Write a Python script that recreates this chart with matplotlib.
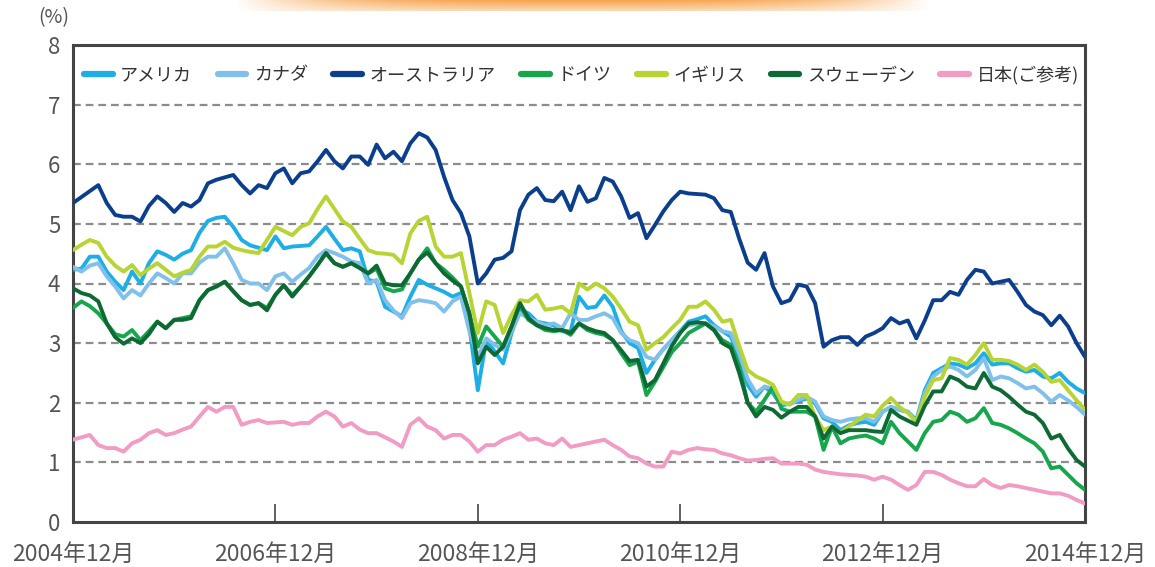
import numpy as np
import matplotlib
matplotlib.use("Agg")
import matplotlib.pyplot as plt
from matplotlib.lines import Line2D

plt.rcParams['font.family'] = ['Noto Sans CJK JP', 'DejaVu Sans']

# ---- data (monthly, Dec 2004 .. Dec 2014) ----
xtick_labels = ["2004年12月", "2006年12月", "2008年12月", "2010年12月", "2012年12月", "2014年12月"]
series_names = ["アメリカ", "カナダ", "オーストラリア", "ドイツ", "イギリス", "スウェーデン", "日本(ご参考)"]

usa = [4.23, 4.25, 4.45, 4.45, 4.2, 4.03, 3.89, 4.2, 4.0, 4.34, 4.54, 4.48, 4.4, 4.5, 4.56, 4.85, 5.05, 5.1, 5.12, 4.95,
       4.73, 4.64, 4.6, 4.56, 4.79, 4.59, 4.62, 4.63, 4.64, 4.79, 4.95, 4.75, 4.56, 4.59, 4.54, 4.06, 4.03, 3.61, 3.53, 3.45,
       3.78, 4.06, 3.98, 3.92, 3.86, 3.78, 3.84, 3.28, 2.21, 3.05, 2.86, 2.66, 3.17, 3.56, 3.5, 3.36, 3.33, 3.3, 3.2, 3.2,
       3.78, 3.59, 3.61, 3.8, 3.61, 3.2, 3.0, 2.92, 2.5, 2.72, 2.9, 3.05, 3.2, 3.36, 3.4, 3.45, 3.3, 3.2, 3.11, 2.77,
       2.3, 2.1, 2.27, 2.16, 1.95, 1.99, 2.03, 2.07, 1.99, 1.74, 1.68, 1.54, 1.62, 1.66, 1.68, 1.63, 1.85, 1.93, 1.88, 1.85,
       1.71, 2.21, 2.5, 2.58, 2.66, 2.64, 2.58, 2.66, 2.83, 2.64, 2.66, 2.66, 2.58, 2.52, 2.55, 2.44, 2.41, 2.5, 2.35, 2.24,
       2.16]
canada = [4.28, 4.2, 4.3, 4.34, 4.12, 3.95, 3.75, 3.89, 3.8, 4.0, 4.17, 4.09, 4.0, 4.17, 4.17, 4.35, 4.45, 4.45, 4.59, 4.34,
          4.06, 4.0, 4.0, 3.89, 4.12, 4.17, 4.03, 4.15, 4.26, 4.45, 4.56, 4.51, 4.45, 4.37, 4.34, 4.0, 4.06, 3.72, 3.55, 3.42,
          3.67, 3.72, 3.7, 3.67, 3.53, 3.7, 3.78, 3.2, 2.77, 3.08, 2.97, 2.89, 3.2, 3.5, 3.42, 3.36, 3.3, 3.33, 3.25, 3.5,
          3.39, 3.39, 3.45, 3.5, 3.42, 3.17, 3.05, 3.0, 2.77, 2.72, 2.9, 3.05, 3.2, 3.3, 3.32, 3.33, 3.28, 3.2, 3.17, 2.83,
          2.4, 2.16, 2.27, 2.24, 2.0, 1.97, 2.05, 2.1, 2.02, 1.77, 1.71, 1.68, 1.72, 1.74, 1.74, 1.68, 1.85, 1.93, 1.88, 1.85,
          1.68, 2.16, 2.44, 2.55, 2.61, 2.55, 2.44, 2.55, 2.75, 2.38, 2.44, 2.41, 2.33, 2.24, 2.27, 2.16, 2.02, 2.13, 2.04, 1.93,
          1.8]
australia = [5.35, 5.45, 5.55, 5.65, 5.35, 5.15, 5.12, 5.12, 5.04, 5.3, 5.46, 5.35, 5.2, 5.35, 5.29, 5.4, 5.68, 5.74, 5.78, 5.82,
             5.65, 5.51, 5.65, 5.6, 5.85, 5.93, 5.68, 5.85, 5.88, 6.05, 6.24, 6.05, 5.93, 6.13, 6.13, 5.99, 6.33, 6.1, 6.21, 6.05,
             6.35, 6.52, 6.45, 6.24, 5.79, 5.4, 5.18, 4.79, 4.0, 4.17, 4.4, 4.43, 4.54, 5.23, 5.49, 5.6, 5.4, 5.38, 5.54, 5.23,
             5.63, 5.37, 5.43, 5.77, 5.71, 5.46, 5.1, 5.18, 4.76, 4.98, 5.21, 5.4, 5.54, 5.51, 5.5, 5.49, 5.43, 5.23, 5.2, 4.75,
             4.35, 4.23, 4.51, 3.95, 3.67, 3.72, 3.98, 3.95, 3.67, 2.94, 3.05, 3.1, 3.1, 2.97, 3.11, 3.17, 3.25, 3.42, 3.33, 3.38,
             3.08, 3.38, 3.72, 3.72, 3.86, 3.81, 4.06, 4.23, 4.2, 4.0, 4.03, 4.06, 3.86, 3.64, 3.53, 3.47, 3.3, 3.46, 3.28, 3.0,
             2.77]
germany = [3.59, 3.7, 3.62, 3.5, 3.33, 3.15, 3.11, 3.22, 3.05, 3.2, 3.36, 3.25, 3.39, 3.42, 3.45, 3.72, 3.89, 3.95, 4.03, 3.87,
           3.72, 3.64, 3.67, 3.59, 3.81, 3.97, 3.81, 3.95, 4.12, 4.31, 4.51, 4.34, 4.28, 4.34, 4.26, 4.17, 4.25, 3.92, 3.87, 3.9,
           4.17, 4.4, 4.59, 4.34, 4.23, 4.1, 3.95, 3.5, 2.94, 3.28, 3.11, 2.94, 3.28, 3.64, 3.39, 3.3, 3.22, 3.2, 3.22, 3.14,
           3.33, 3.22, 3.17, 3.14, 3.05, 2.83, 2.63, 2.69, 2.13, 2.35, 2.6, 2.85, 3.0, 3.17, 3.25, 3.33, 3.22, 3.05, 2.97, 2.61,
           2.0, 1.85, 2.05, 2.27, 1.9, 1.85, 1.85, 1.85, 1.77, 1.21, 1.6, 1.32, 1.4, 1.43, 1.45, 1.4, 1.32, 1.68, 1.49, 1.35,
           1.21, 1.49, 1.68, 1.71, 1.85, 1.8, 1.68, 1.74, 1.91, 1.66, 1.63, 1.57, 1.49, 1.4, 1.32, 1.18, 0.9, 0.93, 0.79, 0.65,
           0.54]
uk = [4.56, 4.65, 4.73, 4.68, 4.45, 4.3, 4.2, 4.31, 4.14, 4.25, 4.34, 4.23, 4.12, 4.18, 4.23, 4.45, 4.62, 4.62, 4.7, 4.6,
      4.56, 4.53, 4.51, 4.73, 4.95, 4.88, 4.81, 4.95, 5.01, 5.25, 5.46, 5.25, 5.04, 4.95, 4.75, 4.56, 4.51, 4.5, 4.48, 4.34,
      4.84, 5.05, 5.12, 4.62, 4.45, 4.45, 4.51, 3.84, 3.17, 3.7, 3.64, 3.17, 3.47, 3.72, 3.7, 3.81, 3.56, 3.58, 3.61, 3.5,
      4.0, 3.9, 4.0, 3.92, 3.78, 3.58, 3.36, 3.3, 2.89, 3.0, 3.1, 3.25, 3.39, 3.61, 3.61, 3.7, 3.56, 3.36, 3.39, 2.95,
      2.55, 2.44, 2.38, 2.3, 2.02, 1.97, 2.13, 2.13, 1.77, 1.54, 1.6, 1.5, 1.6, 1.7, 1.8, 1.77, 1.95, 2.08, 1.93, 1.83,
      1.68, 2.1, 2.38, 2.41, 2.75, 2.72, 2.64, 2.8, 3.0, 2.72, 2.72, 2.7, 2.64, 2.55, 2.64, 2.52, 2.35, 2.38, 2.21, 2.04,
      1.88]
sweden = [3.92, 3.84, 3.8, 3.7, 3.33, 3.1, 2.99, 3.08, 3.0, 3.15, 3.36, 3.25, 3.39, 3.39, 3.42, 3.72, 3.89, 3.95, 4.03, 3.87,
          3.72, 3.64, 3.67, 3.55, 3.81, 3.97, 3.78, 3.95, 4.12, 4.31, 4.51, 4.34, 4.28, 4.34, 4.26, 4.17, 4.3, 4.0, 3.97, 3.97,
          4.17, 4.4, 4.52, 4.34, 4.17, 4.05, 3.95, 3.5, 2.66, 2.94, 2.8, 2.94, 3.28, 3.67, 3.42, 3.3, 3.25, 3.22, 3.22, 3.17,
          3.33, 3.25, 3.2, 3.17, 3.05, 2.88, 2.7, 2.72, 2.27, 2.38, 2.66, 2.95, 3.17, 3.33, 3.35, 3.33, 3.22, 3.0, 2.92, 2.5,
          2.0, 1.77, 1.93, 1.88, 1.75, 1.85, 1.93, 1.93, 1.77, 1.4, 1.6, 1.49, 1.54, 1.54, 1.54, 1.52, 1.51, 1.88, 1.77, 1.7,
          1.63, 1.95, 2.19, 2.19, 2.44, 2.38, 2.27, 2.24, 2.5, 2.27, 2.21, 2.1, 1.97, 1.85, 1.8, 1.66, 1.4, 1.46, 1.23, 1.04,
          0.93]
japan = [1.38, 1.42, 1.46, 1.29, 1.24, 1.24, 1.18, 1.32, 1.38, 1.49, 1.54, 1.46, 1.49, 1.55, 1.6, 1.77, 1.93, 1.85, 1.93, 1.93,
         1.63, 1.68, 1.71, 1.66, 1.67, 1.68, 1.63, 1.66, 1.66, 1.77, 1.85, 1.77, 1.6, 1.66, 1.55, 1.49, 1.49, 1.42, 1.35, 1.26,
         1.63, 1.74, 1.6, 1.54, 1.4, 1.46, 1.46, 1.35, 1.18, 1.29, 1.29, 1.38, 1.43, 1.49, 1.38, 1.4, 1.32, 1.29, 1.4, 1.26,
         1.29, 1.32, 1.35, 1.38, 1.29, 1.21, 1.1, 1.07, 0.98, 0.93, 0.93, 1.18, 1.15, 1.21, 1.24, 1.22, 1.21, 1.15, 1.12, 1.07,
         1.03, 1.04, 1.06, 1.07, 0.98, 0.98, 0.98, 0.96, 0.88, 0.84, 0.82, 0.8, 0.79, 0.78, 0.76, 0.71, 0.76, 0.71, 0.62, 0.54,
         0.62, 0.84, 0.84, 0.79, 0.71, 0.65, 0.6, 0.6, 0.72, 0.62, 0.57, 0.62, 0.6, 0.57, 0.54, 0.51, 0.48, 0.48, 0.44, 0.37,
         0.31]

all_series = [usa, canada, australia, germany, uk, sweden, japan]
colors = ["#1DAEE6", "#80C0EA", "#0B3F8E", "#16A64B", "#B8D432", "#0F6934", "#F29BC4"]

# ---- figure ----
W, H = 1155, 567
fig = plt.figure(figsize=(W / 100, H / 100), dpi=100)

# cropped orange banner at the top
bax = fig.add_axes([235 / W, 1 - 11 / H, 695 / W, 11 / H])
gx = np.linspace(-1, 1, 300)
prof = np.clip(1 - np.abs(gx) ** 3, 0, 1)
orange = np.array([247, 165, 80]) / 255.0
img = np.ones((10, 300, 3))
for i in range(10):
    a = prof * (1 - i / 16)
    img[i] = 1 - a[:, None] * (1 - orange[None, :])
bax.imshow(img, aspect="auto")
bax.axis("off")

ax = fig.add_axes([73 / W, 1 - 522 / H, (1085 - 73) / W, (522 - 45) / H])

x = np.arange(len(usa))
for s, c in zip(all_series, colors):
    ax.plot(x, s, color=c, lw=2.8, solid_joinstyle="round", solid_capstyle="round", zorder=3)

ax.set_xlim(0, len(usa) - 1)
ax.set_ylim(0, 8)
ax.set_yticks(range(0, 9))
ax.set_xticks(np.arange(len(xtick_labels)) * 24)
ax.set_xticklabels(xtick_labels)

for yv in range(1, 8):
    ax.axhline(yv, color="#8c8c8c", lw=1.6, ls=(0, (3.5, 2.2)), zorder=1)

for sp in ax.spines.values():
    sp.set_color("#444444")
    sp.set_linewidth(2.2)

ax.tick_params(axis="x", direction="in", length=13, width=1.2, color="#444444",
               labelsize=16.5, labelcolor="#555555", pad=15)
ax.tick_params(axis="y", length=0, labelsize=16, labelcolor="#555555", pad=9)

fig.text(54 / W, 1 - 18 / H, "(%)", ha="center", va="center", fontsize=14, color="#555555")

handles = [Line2D([0], [0], color=c, lw=4.5, solid_capstyle="round") for c in colors]
leg = ax.legend(handles, series_names, ncol=7, loc="center left",
                bbox_to_anchor=(0.0, (522 - 75) / (522 - 45)), frameon=False,
                fontsize=13, handlelength=1.6, handletextpad=0.4, columnspacing=1.42,
                borderaxespad=0.2)
for t in leg.get_texts():
    t.set_color("#333333")

fig.savefig("out.png", dpi=100, facecolor="white")
